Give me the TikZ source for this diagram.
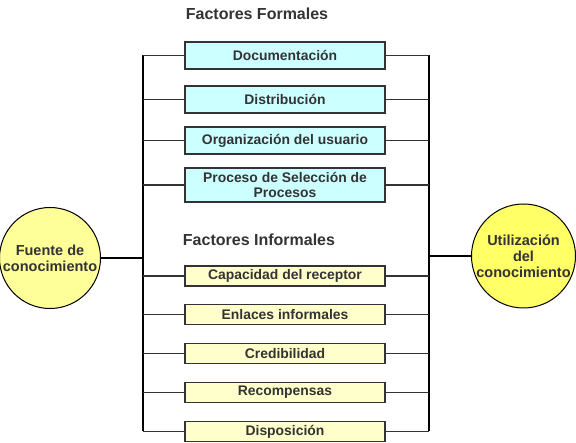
\documentclass[tikz,border=0pt]{standalone}
\usepackage{fontspec}
\setmainfont{Liberation Sans}
\usetikzlibrary{positioning, calc}
\definecolor{lineGray}{RGB}{51, 51, 51}
\definecolor{formalCyan}{RGB}{204, 255, 255}
\definecolor{informalYellow}{RGB}{255, 255, 204}
\definecolor{sourceYellow}{RGB}{255, 255, 153}
\definecolor{useYellow}{RGB}{255, 255, 102}
\tikzset{
  factorBox/.style={
    draw=lineGray,
    line width=1.5pt,
    minimum width=200pt,
    inner sep=1pt,
    align=center,
    font=\fontsize{13.9}{15}\selectfont\bfseries\color{lineGray}
  },
  formalBox/.style={
    factorBox,
    fill=formalCyan,
    minimum height=27pt
  },
  informalBox/.style={
    factorBox,
    fill=informalYellow,
    minimum height=20pt
  },
  knowCircle/.style={
    draw=black,
    circle,
    line width=1pt,
    inner sep=0pt,
    align=center,
    font=\fontsize{14.5}{16}\selectfont\bfseries\color{lineGray}
  },
  groupTitle/.style={
    font=\fontsize{16}{18}\selectfont\bfseries\color{lineGray}
  },
  busLine/.style={
    draw=black,
    line width=1.8pt
  },
  stubLine/.style={
    draw=lineGray,
    line width=1.8pt
  }
}

\begin{document}
\begin{tikzpicture}[x=1pt,y=-1pt]
  \useasboundingbox (0,0) rectangle (576,443);
  % group titles
  \node[groupTitle] (tFormal) at (257,14) {Factores Formales};
  \node[groupTitle] (tInformal) at (259,240) {Factores Informales};
  % formal factors
  \node[formalBox] (doc) at (285,55.5) {Documentación};
  \node[formalBox] (dist) at (285,99.5) {Distribución};
  \node[formalBox] (orga) at (285,140.5) {Organización del usuario};
  \node[formalBox, minimum height=34pt] (proc) at (285,185) {Proceso de Selección de\\Procesos};
  % informal factors
  \node[informalBox] (capa) at (285,276) {Capacidad del receptor};
  \node[informalBox] (enla) at (285,314.5) {Enlaces informales};
  \node[informalBox] (cred) at (285,353.5) {Credibilidad};
  \node[informalBox] (reco) at (285,392.5) {Recompensas};
  \node[informalBox] (disp) at (285,431.5) {Disposición};
  % source and use
  \node[knowCircle, fill=sourceYellow, minimum size=101pt] (fuente) at (50,258) {Fuente de\\conocimiento};
  \node[knowCircle, fill=useYellow, minimum size=104pt] (util) at (523.5,256) {Utilización\\del\\conocimiento};
  % buses
  \coordinate (lBus) at (143,0);
  \coordinate (rBus) at (429,0);
  \draw[busLine] (doc.west -| lBus) -- (disp.west -| lBus);
  \draw[busLine] (doc.east -| rBus) -- (disp.east -| rBus);
  \draw[busLine] (fuente.east) -- (fuente.east -| lBus);
  \draw[busLine] (util.west) -- (util.west -| rBus);
  \foreach \b in {doc, dist, orga, proc, capa, enla, cred, reco, disp} {
    \draw[stubLine] (\b.west) -- (\b.west -| lBus);
    \draw[stubLine] (\b.east) -- (\b.east -| rBus);
  }
\end{tikzpicture}
\end{document}
